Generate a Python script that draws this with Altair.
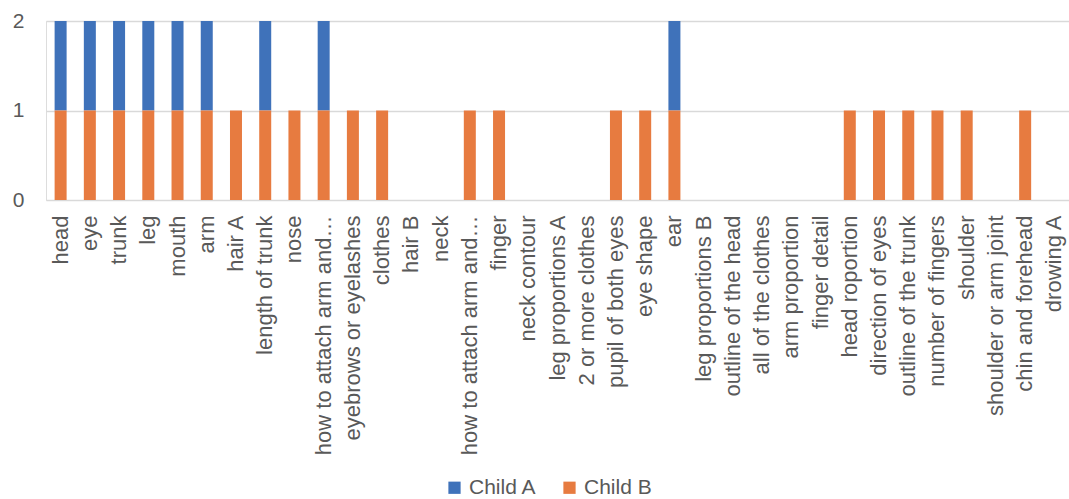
import altair as alt
import pandas as pd

categories = [
    "head", "eye", "trunk", "leg", "mouth", "arm", "hair A", "length of trunk",
    "nose", "how to attach arm and…", "eyebrows or eyelashes", "clothes", "hair B",
    "neck", "how to attach arm and…", "finger", "neck contour", "leg proportions A",
    "2 or more clothes", "pupil of both eyes", "eye shape", "ear", "leg proportions B",
    "outline of the head", "all of the clothes", "arm proportion", "finger detail",
    "head roportion", "direction of eyes", "outline of the trunk", "number of fingers",
    "shoulder", "shoulder or arm joint", "chin and forehead", "drowing A",
]
child_a = [1, 1, 1, 1, 1, 1, 0, 1, 0, 1, 0, 0, 0, 0, 0, 0, 0, 0, 0, 0, 0, 1, 0, 0, 0, 0, 0, 0, 0, 0, 0, 0, 0, 0, 0]
child_b = [1, 1, 1, 1, 1, 1, 1, 1, 1, 1, 1, 1, 0, 0, 1, 1, 0, 0, 0, 1, 1, 1, 0, 0, 0, 0, 0, 1, 1, 1, 1, 1, 0, 1, 0]
series = ["Child A", "Child B"]
colors = ["#3F72BA", "#E77B40"]

rows = []
keys = [f"{i:02d}|{c}" for i, c in enumerate(categories)]
for k, a, b in zip(keys, child_a, child_b):
    rows.append({"key": k, "series": "Child A", "value": a, "ord": 1})
    rows.append({"key": k, "series": "Child B", "value": b, "ord": 0})
df = pd.DataFrame(rows)

font = "Liberation Sans"
chart = alt.Chart(df).mark_bar(size=12).encode(
    x=alt.X("key:N", sort=keys, title=None,
            scale=alt.Scale(paddingInner=0, paddingOuter=0),
            axis=alt.Axis(labelAngle=-90, labelAlign="right", labelBaseline="middle",
                          labelExpr="split(datum.value, '|')[1]",
                          labelFont=font, labelFontSize=22, labelColor="#595959",
                          labelPadding=15, ticks=False, domain=False, labelLimit=400,
                          labelOverlap=False)),
    y=alt.Y("value:Q", stack="zero", title=None,
            scale=alt.Scale(domain=[0, 2], nice=False),
            axis=alt.Axis(tickCount=2, tickMinStep=1, format="d", labelFont=font, labelFontSize=21,
                          labelColor="#595959", labelPadding=22, ticks=False, domain=False,
                          labelOverlap=False, labelFlush=False,
                          gridColor="#D9D9D9", gridWidth=1.3)),
    color=alt.Color("series:N", scale=alt.Scale(domain=series, range=colors),
                    legend=alt.Legend(title=None, orient="none", direction="horizontal",
                                      legendX=398, legendY=456, symbolType="square",
                                      symbolSize=150, symbolStrokeWidth=0,
                                      labelFont=font, labelFontSize=21, labelColor="#595959",
                                      columnPadding=22, symbolOffset=0)),
    order=alt.Order("ord:Q"),
).properties(
    width=1023, height=179,
    autosize="none",
    padding={"left": 46, "top": 21, "right": 0, "bottom": 299},
).configure_view(stroke=None).configure(background="white")

chart.save("out.html", embed_options={"renderer": "svg", "actions": False})
